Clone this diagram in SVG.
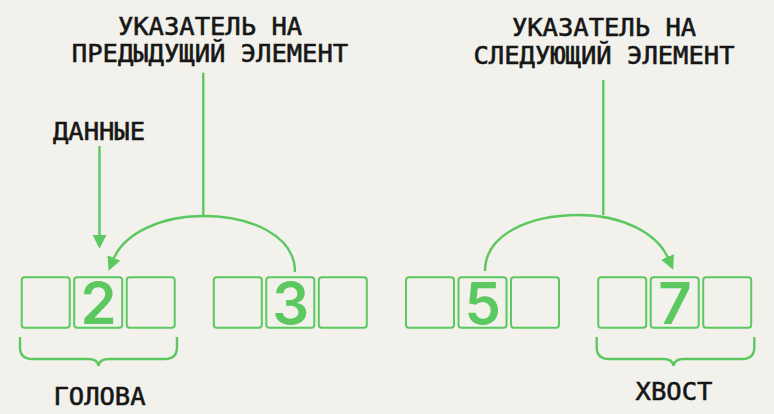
<svg xmlns="http://www.w3.org/2000/svg" width="774" height="414" viewBox="0 0 774 414">
<defs>
<style>
.cell{fill:none;stroke:#5cc860;stroke-width:2}
.ln{fill:none;stroke:#5cc860;stroke-width:2.4}
.lbl{font-family:"DejaVu Sans Mono","Liberation Mono",monospace;font-weight:normal;font-size:25.5px;fill:#161616;stroke:#161616;stroke-width:0.6;text-anchor:middle}
.dig{font-family:Inter,"Noto Sans",sans-serif;font-weight:600;font-size:58px;fill:#5cc860;text-anchor:middle}
</style>
<marker id="ah" markerUnits="userSpaceOnUse" markerWidth="14" markerHeight="14" viewBox="0 0 12 12" refX="1" refY="6" orient="auto">
<path d="M0,0 L12,6 L0,12 z" fill="#5cc860"/>
</marker>
</defs>
<rect width="774" height="414" fill="#f2f1ec"/>

<g id="title-prev">
<text class="lbl" x="210" y="35">УКАЗАТЕЛЬ НА</text>
<text class="lbl" x="210" y="62">ПРЕДЫДУЩИЙ ЭЛЕМЕНТ</text>
</g>
<g id="title-next">
<text class="lbl" x="604" y="36">УКАЗАТЕЛЬ НА</text>
<text class="lbl" x="604" y="64">СЛЕДУЮЩИЙ ЭЛЕМЕНТ</text>
</g>
<g id="label-data">
<text class="lbl" x="99" y="140">ДАННЫЕ</text>
</g>

<g id="node-2">
<rect class="cell" x="21.7" y="277.3" width="48" height="50.5" rx="3"/>
<rect class="cell" x="74.2" y="277.3" width="48" height="50.5" rx="3"/>
<rect class="cell" x="126.7" y="277.3" width="48" height="50.5" rx="3"/>
<text class="dig" x="98.5" y="324">2</text>
</g>
<g id="node-3">
<rect class="cell" x="213.8" y="277.3" width="48" height="50.5" rx="3"/>
<rect class="cell" x="266.3" y="277.3" width="48" height="50.5" rx="3"/>
<rect class="cell" x="318.8" y="277.3" width="48" height="50.5" rx="3"/>
<text class="dig" x="290.6" y="324">3</text>
</g>
<g id="node-5">
<rect class="cell" x="406" y="277.3" width="48" height="50.5" rx="3"/>
<rect class="cell" x="458.5" y="277.3" width="48" height="50.5" rx="3"/>
<rect class="cell" x="511" y="277.3" width="48" height="50.5" rx="3"/>
<text class="dig" x="482.8" y="324">5</text>
</g>
<g id="node-7">
<rect class="cell" x="598.2" y="277.3" width="48" height="50.5" rx="3"/>
<rect class="cell" x="650.7" y="277.3" width="48" height="50.5" rx="3"/>
<rect class="cell" x="703.2" y="277.3" width="48" height="50.5" rx="3"/>
<text class="dig" x="675" y="324">7</text>
</g>

<g id="label-head">
<text class="lbl" x="99.5" y="405">ГОЛОВА</text>
</g>
<g id="label-tail">
<text class="lbl" x="674" y="400">ХВОСТ</text>
</g>

<g id="connectors">
<path class="ln" d="M99.5,146 V236" marker-end="url(#ah)"/>
<path class="ln" d="M203.3,72.7 V216"/>
<path class="ln" d="M603.3,80 V215"/>
<path class="ln" d="M295,272 C295,236 252,216 203,216 C160,216 124,234 113.5,259" marker-end="url(#ah)"/>
<path class="ln" d="M485,271 C485,235 528,215 579,215 C622,215 657,233 668,258" marker-end="url(#ah)"/>
<path class="ln" d="M20,337 V347 Q20,359 32,359 H88 C94,359 98,361 98.5,366 C99,361 103,359 109,359 H165 Q177,359 177,347 V337"/>
<path class="ln" d="M596.7,337 V347 Q596.7,359 608.7,359 H663 C669,359 673,361 673.5,366 C674,361 678,359 684,359 H742.3 Q754.3,359 754.3,347 V337"/>
</g>
</svg>
